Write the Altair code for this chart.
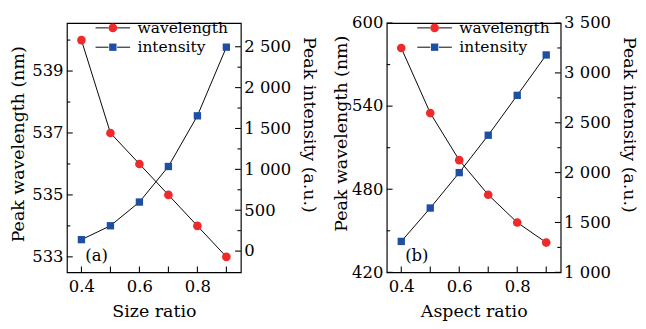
import altair as alt
import pandas as pd

# ---------------- data ----------------
x_vals = [0.4, 0.5, 0.6, 0.7, 0.8, 0.9]
size_wavelength = [540.0, 537.0, 536.0, 535.0, 534.0, 533.0]
size_intensity = [140, 310, 600, 1035, 1655, 2495]
aspect_wavelength = [582.0, 535.0, 501.0, 476.0, 456.0, 441.5]
aspect_intensity = [1310, 1645, 2000, 2375, 2775, 3180]

series_names = ["wavelength", "intensity"]
series_colors = ["#ee2a2a", "#1f4fa3"]
x_ticks = [0.4, 0.5, 0.6, 0.7, 0.8, 0.9]
x_labeled = ["0.4", "0.6", "0.8"]
panel_letters = ["(a)", "(b)"]
x_titles = ["Size ratio", "Aspect ratio"]
y_left_title = "Peak wavelength (nm)"
y_right_title = "Peak intensity (a.u.)"

size_wl_major = [533, 535, 537, 539]
size_wl_minor = [534, 536, 538, 540]
size_in_major = [0, 500, 1000, 1500, 2000, 2500]
size_in_minor = [250, 750, 1250, 1750, 2250]
aspect_wl_major = [420, 480, 540, 600]
aspect_wl_minor = [450, 510, 570]
aspect_in_major = [1000, 1500, 2000, 2500, 3000, 3500]
aspect_in_minor = [1250, 1750, 2250, 2750, 3250]

# ---------------- styling ----------------
FONT = "DejaVu Serif"
W, H = 180, 258
MAJ, MIN = 6, 3.5
SQUARE = "M-0.85,-0.85L0.85,-0.85L0.85,0.85L-0.85,0.85Z"
LINE_SYM = "M-4,0L-1,0M1,0L4,0"
SYM_SIZE = 80

x_label_expr = "indexof([" + ",".join("'%s'" % s for s in x_labeled) + "], datum.label) >= 0 ? datum.label : ''"
thousands_expr = "replace(format(datum.value, ','), ',', ' ')"


def tick_rules(values, scale, side, length):
    """Inward tick marks drawn with the panel's own scales."""
    df = pd.DataFrame({"v": values})
    base = alt.Chart(df).mark_rule(color="black", strokeWidth=1.1)
    if side == "left":
        return base.encode(y=alt.Y("v:Q", scale=scale, axis=None),
                           x=alt.value(0), x2=alt.value(length))
    if side == "right":
        return base.encode(y=alt.Y("v:Q", scale=scale, axis=None),
                           x=alt.value(W - length), x2=alt.value(W))
    return base.encode(x=alt.X("v:Q", scale=scale, axis=None),
                       y=alt.value(H - length), y2=alt.value(H))


def panel(wl, inten, wl_dom, wl_major, wl_minor, in_dom, in_major, in_minor,
          xtitle, letter, legx, legy, ltitle_y, rtitle_y, ltitle_pad):
    dw = pd.DataFrame({"x": x_vals, "y": wl,
                       "series": series_names[0], "lseries": series_names[0]})
    di = pd.DataFrame({"x": x_vals, "y": inten,
                       "series": series_names[1], "lseries": series_names[1]})

    xscale = alt.Scale(domain=[0.35, 0.95], nice=False, zero=False)
    wl_scale = alt.Scale(domain=wl_dom, nice=False, zero=False)
    in_scale = alt.Scale(domain=in_dom, nice=False, zero=False)

    x_main = alt.X("x:Q", scale=xscale, title=xtitle,
                   axis=alt.Axis(orient="bottom", values=x_ticks, format=".1f",
                                 labelExpr=x_label_expr, ticks=False,
                                 labelPadding=7, titlePadding=9, domain=False,
                                 grid=False, labelFlush=False, labelOverlap=False))
    x_none = alt.X("x:Q", scale=xscale, axis=None)

    y_left = alt.Y("y:Q", scale=wl_scale, title=y_left_title,
                   axis=alt.Axis(orient="left", values=wl_major, ticks=False,
                                 labelPadding=4, titlePadding=ltitle_pad,
                                 titleY=ltitle_y, domain=False, grid=False,
                                 labelFlush=False, labelOverlap=False))
    y_right = alt.Y("y:Q", scale=in_scale, title=y_right_title,
                    axis=alt.Axis(orient="right", values=in_major, ticks=False,
                                  labelPadding=3, titlePadding=9,
                                  titleY=rtitle_y, labelExpr=thousands_expr,
                                  domain=False, grid=False, labelFlush=False,
                                  labelOverlap=False))

    point_legend = alt.Legend(orient="none", legendX=legx, legendY=legy, title=None,
                              symbolSize=SYM_SIZE, symbolStrokeWidth=0,
                              labelOffset=17.5, labelFont=FONT, labelFontSize=16,
                              rowPadding=4, padding=0, labelColor="black")
    line_legend = alt.Legend(orient="none", legendX=legx, legendY=legy, title=None,
                             symbolType=LINE_SYM, symbolSize=SYM_SIZE,
                             symbolStrokeWidth=1, symbolFillColor="transparent",
                             labelOffset=17.5, labelFont=FONT, labelFontSize=16,
                             labelExpr="''", rowPadding=4, padding=0)

    stroke_enc = alt.Stroke("lseries:N",
                            scale=alt.Scale(range=["black", "black"]),
                            legend=line_legend)
    fill_enc = alt.Fill("series:N",
                        scale=alt.Scale(domain=series_names, range=series_colors),
                        legend=point_legend)
    shape_enc = alt.Shape("series:N",
                          scale=alt.Scale(domain=series_names, range=["circle", SQUARE]),
                          legend=point_legend)

    line_w = alt.Chart(dw).mark_line(strokeWidth=1).encode(x=x_main, y=y_left, stroke=stroke_enc)
    pts_w = alt.Chart(dw).mark_point(filled=True, size=SYM_SIZE, opacity=1, strokeWidth=0).encode(
        x=x_main, y=y_left, fill=fill_enc, shape=shape_enc)
    layer_w = alt.layer(line_w, pts_w)

    line_i = alt.Chart(di).mark_line(strokeWidth=1).encode(x=x_none, y=y_right, stroke=stroke_enc)
    pts_i = alt.Chart(di).mark_point(filled=True, size=SYM_SIZE, opacity=1, strokeWidth=0).encode(
        x=x_none, y=y_right, fill=fill_enc, shape=shape_enc)
    layer_i = alt.layer(line_i, pts_i)

    ticks = [
        tick_rules(wl_major, wl_scale, "left", MAJ),
        tick_rules(wl_minor, wl_scale, "left", MIN),
        tick_rules(in_major, in_scale, "right", MAJ),
        tick_rules(in_minor, in_scale, "right", MIN),
        tick_rules(x_ticks, xscale, "bottom", MAJ),
    ]

    letter_txt = alt.Chart(pd.DataFrame({"t": [letter]})).mark_text(
        font=FONT, fontSize=17, align="left", baseline="middle", color="black"
    ).encode(text="t:N", x=alt.value(19), y=alt.value(241))

    return alt.layer(*ticks, layer_i, layer_w, letter_txt).resolve_scale(
        x="independent", y="independent"
    ).properties(width=W, height=H)


pa = panel(size_wavelength, size_intensity, [532.5, 540.55], size_wl_major, size_wl_minor,
           [-260, 2790], size_in_major, size_in_minor, x_titles[0], panel_letters[0],
           39.5, -3, 125, 105, 5)
pb = panel(aspect_wavelength, aspect_intensity, [420, 600], aspect_wl_major, aspect_wl_minor,
           [1000, 3500], aspect_in_major, aspect_in_minor, x_titles[1], panel_letters[1],
           41.5, -3, 114, 105, 1)

chart = alt.hconcat(pa, pb, spacing=14).resolve_scale(
    fill="independent", shape="independent", stroke="independent"
).properties(
    padding={"left": 0, "top": 0, "right": 0, "bottom": 0},
    background="white"
).configure_view(
    stroke="black", strokeWidth=1.2
).configure_axis(
    labelFont=FONT, labelFontSize=17, labelColor="black",
    titleFont=FONT, titleFontSize=18, titleFontWeight="normal", titleColor="black"
)

chart.save("out.html", embed_options={"renderer": "svg", "actions": False})
